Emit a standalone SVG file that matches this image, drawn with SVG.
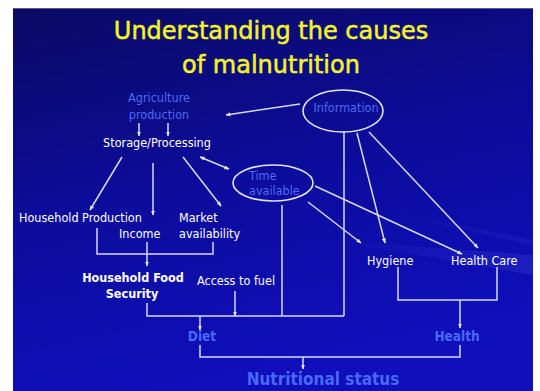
<svg xmlns="http://www.w3.org/2000/svg" width="540" height="391" viewBox="0 0 540 391">
<defs>
<linearGradient id="bg" x1="0" y1="0" x2="0.3" y2="1">
<stop offset="0" stop-color="#0a0a64"/>
<stop offset="0.5" stop-color="#0c0c9a"/>
<stop offset="1" stop-color="#0f0fbc"/>
</linearGradient>
<linearGradient id="streak" x1="0" y1="0" x2="1" y2="0">
<stop offset="0" stop-color="#6a7aff" stop-opacity="0"/>
<stop offset="1" stop-color="#6a7aff" stop-opacity="0.15"/>
</linearGradient>
<marker id="ah" viewBox="0 0 10 10" refX="9" refY="5" markerWidth="5" markerHeight="5" orient="auto-start-reverse" markerUnits="userSpaceOnUse">
<path d="M0,1 L10,5 L0,9 z" fill="#e6e6f5"/>
</marker>
<style>
.ln{fill:none;stroke:#d8d8ee;stroke-width:1.5}
.ar{marker-end:url(#ah)}
.t{font-family:"DejaVu Sans Condensed","DejaVu Sans",sans-serif;font-size:12.5px;fill:#ffffff}
.b{font-weight:bold}
.blue{fill:#4d6af2}
.bb{font-family:"DejaVu Sans Condensed","DejaVu Sans",sans-serif;font-weight:bold;fill:#4a68f6}
.title{font-family:"DejaVu Sans",sans-serif;font-size:24px;fill:#f4f428;stroke:#f4f428;stroke-width:0.5}
.el{fill:none;stroke:#e4e4f2;stroke-width:1.6}
</style>
</defs>
<rect x="0" y="0" width="540" height="391" fill="#ffffff"/>
<rect x="13" y="8" width="520" height="383" fill="url(#bg)"/>
<path d="M330,240 L533,255 L533,275 Z" fill="url(#streak)"/>
<path d="M360,205 L533,240 L533,246 Z" fill="url(#streak)" opacity="0.6"/>
<line x1="13" y1="8.5" x2="533" y2="8.5" stroke="#5a5a90" stroke-width="1"/>

<g id="title">
<text class="title" x="271" y="39" text-anchor="middle">Understanding the causes</text>
<text class="title" x="271" y="73" text-anchor="middle">of malnutrition</text>
</g>

<g id="connectors">
<line class="ln ar" x1="300" y1="104" x2="226" y2="115"/>
<line class="ln ar" x1="139" y1="123" x2="139" y2="136"/>
<line class="ln ar" x1="168" y1="123" x2="168" y2="136"/>
<line class="ln ar" x1="122" y1="157" x2="90" y2="210"/>
<line class="ln ar" x1="153" y1="163" x2="153" y2="215"/>
<line class="ln ar" x1="183" y1="157" x2="221" y2="206"/>
<line class="ln ar" x1="200" y1="157" x2="229" y2="169" style="marker-start:url(#ah)"/>
<line class="ln" x1="344" y1="132" x2="344" y2="316"/>
<line class="ln ar" x1="357" y1="133" x2="385" y2="243"/>
<line class="ln ar" x1="369" y1="132" x2="478" y2="248"/>
<line class="ln ar" x1="315" y1="186" x2="462" y2="254"/>
<line class="ln ar" x1="308" y1="202" x2="361" y2="243"/>
<line class="ln" x1="282" y1="205" x2="282" y2="316"/>
<polyline class="ln" points="97,228 97,254 213,254 213,242"/>
<line class="ln ar" x1="147" y1="242" x2="147" y2="266"/>
<polyline class="ln" points="147,303 147,316 344,316"/>
<line class="ln ar" x1="235" y1="291" x2="235" y2="316"/>
<line class="ln ar" x1="200" y1="316" x2="200" y2="330"/>
<polyline class="ln" points="200,345 200,357 460,357 460,345"/>
<line class="ln ar" x1="303" y1="357" x2="303" y2="369"/>
<polyline class="ln" points="398,267 398,300 497,300 497,267"/>
<line class="ln ar" x1="460" y1="300" x2="460" y2="328"/>
</g>

<g id="agriculture">
<text class="t blue" x="159" y="102" text-anchor="middle">Agriculture</text>
<text class="t blue" x="159" y="119" text-anchor="middle">production</text>
</g>
<g id="storage">
<text class="t" x="157" y="147" text-anchor="middle">Storage/Processing</text>
</g>
<g id="information">
<ellipse class="el" cx="343" cy="111" rx="40" ry="21"/>
<text class="t blue" x="346" y="112" text-anchor="middle">Information</text>
</g>
<g id="time">
<ellipse class="el" cx="273" cy="183" rx="40" ry="18"/>
<text class="t blue" x="249" y="180">Time</text>
<text class="t blue" x="249" y="195">available</text>
</g>
<g id="household-production">
<text class="t" x="19" y="222">Household Production</text>
</g>
<g id="income">
<text class="t" x="119" y="238">Income</text>
</g>
<g id="market">
<text class="t" x="179" y="222">Market</text>
<text class="t" x="179" y="238">availability</text>
</g>
<g id="hygiene">
<text class="t" x="367" y="265">Hygiene</text>
</g>
<g id="health-care">
<text class="t" x="451" y="265">Health Care</text>
</g>
<g id="food-security">
<text class="t b" x="133" y="282" text-anchor="middle">Household Food</text>
<text class="t b" x="132" y="298" text-anchor="middle">Security</text>
</g>
<g id="fuel">
<text class="t" x="197" y="285">Access to fuel</text>
</g>
<g id="diet">
<text class="bb" x="202" y="341" font-size="13.5" text-anchor="middle">Diet</text>
</g>
<g id="health">
<text class="bb" x="457" y="341" font-size="13.5" text-anchor="middle">Health</text>
</g>
<g id="nutritional-status">
<text class="bb" x="323" y="385" font-size="17" text-anchor="middle">Nutritional status</text>
</g>
</svg>
